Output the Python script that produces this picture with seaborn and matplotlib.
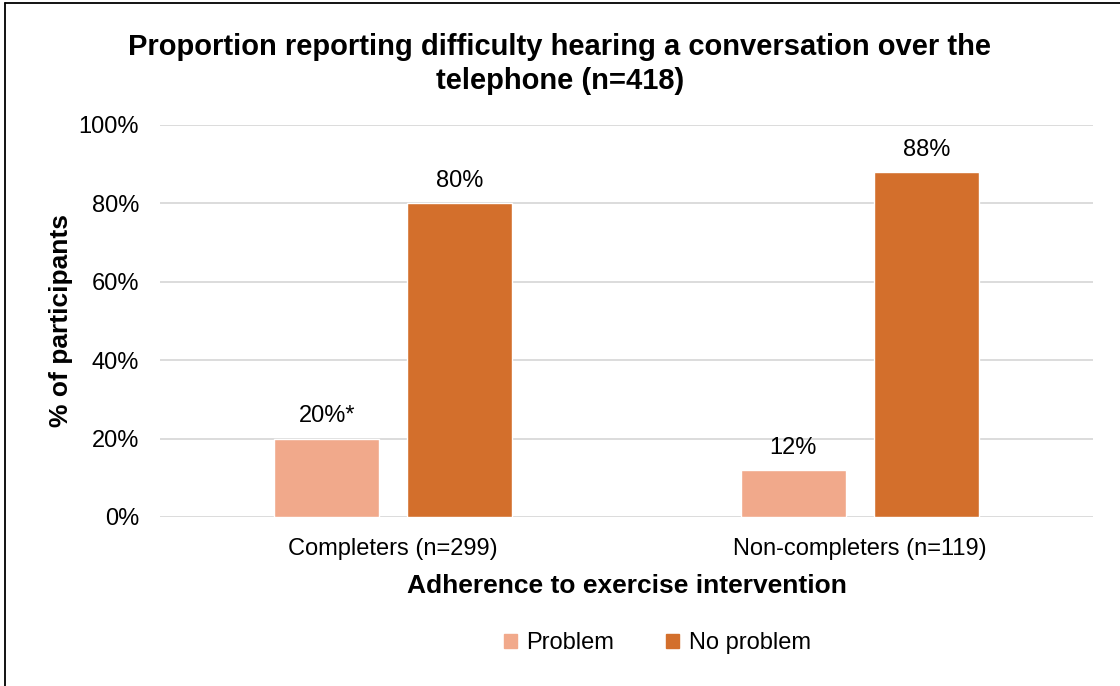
import pandas as pd
import seaborn as sns
import matplotlib.pyplot as plt
from matplotlib.lines import Line2D

# values
groups = ["Completers (n=299)", "Non-completers (n=119)"]
responses = ["Problem", "No problem"]
problem = [20, 12]
no_problem = [80, 88]
bar_text = {"Problem": ["20%*", "12%"], "No problem": ["80%", "88%"]}
yticks = [0, 20, 40, 60, 80, 100]

df = pd.DataFrame({
    "group": groups * 2,
    "response": [responses[0]] * 2 + [responses[1]] * 2,
    "pct": problem + no_problem,
})

sns.set_theme(style="white")
plt.rcParams["font.family"] = ["Liberation Sans", "DejaVu Sans"]
plt.rcParams["text.color"] = "black"

colors = {"Problem": "#F1A98B", "No problem": "#D36F2C"}

fig = plt.figure(figsize=(11.2, 6.86), dpi=100)
ax = fig.add_axes([0.1429, 0.2464, 0.8330, 0.5714])

sns.barplot(data=df, x="group", y="pct", hue="response", hue_order=responses,
            palette=colors, width=0.57, gap=0.21, saturation=1, ax=ax,
            legend=False, zorder=3)

for cont, name in zip(ax.containers, responses):
    ax.bar_label(cont, labels=bar_text[name], padding=8, fontsize=17, color="black")

ax.set_ylim(0, 100)
ax.set_xlim(-0.5, 1.5)
ax.set_yticks(yticks)
ax.set_yticklabels([f"{t}%" for t in yticks], fontsize=17)
ax.tick_params(axis="x", labelsize=17, pad=15, length=0, labelcolor="black")
ax.tick_params(axis="y", pad=15, length=0, labelcolor="black")
ax.yaxis.grid(True, color="#D9D9D9", linewidth=1.3, zorder=0)
ax.set_axisbelow(True)
for s in ax.spines.values():
    s.set_visible(False)

ax.set_xlabel("Adherence to exercise intervention", fontsize=19,
              fontweight="bold", labelpad=10, color="black")
ax.set_ylabel("% of participants", fontsize=19, fontweight="bold", labelpad=4,
              color="black")

fig.text(0.5, 0.907, "Proportion reporting difficulty hearing a conversation over the\ntelephone (n=418)",
         ha="center", va="center", fontsize=21, fontweight="bold", linespacing=1.25)

handles = [plt.Rectangle((0, 0), 1, 1, color=colors[r]) for r in responses]
fig.legend(handles, responses, loc="center", bbox_to_anchor=(0.587, 0.062),
           ncol=2, frameon=False, fontsize=17, handlelength=0.55,
           handleheight=0.55, handletextpad=0.4, columnspacing=2.2)

# outer border (right and bottom edges fall outside the image)
fig.add_artist(Line2D([0.0045, 1.0], [0.9956, 0.9956], color="black", linewidth=1.3,
                      transform=fig.transFigure))
fig.add_artist(Line2D([0.0045, 0.0045], [0.0, 0.9956], color="black", linewidth=1.3,
                      transform=fig.transFigure))

plt.savefig("out.png", dpi=100)
plt.close()
